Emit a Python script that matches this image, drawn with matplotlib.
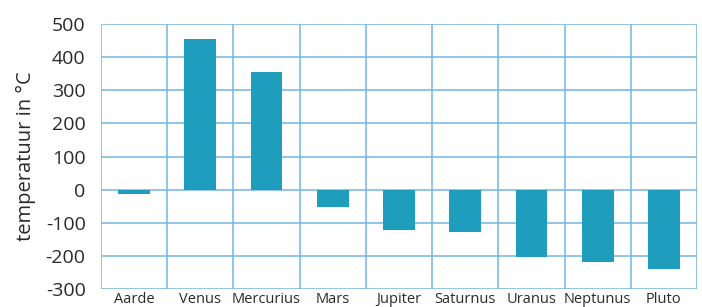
import matplotlib
matplotlib.use("Agg")
import matplotlib.pyplot as plt
import numpy as np

planets = ["Aarde", "Venus", "Mercurius", "Mars", "Jupiter", "Saturnus", "Uranus", "Neptunus", "Pluto"]
temps = [-12, 454, 355, -52, -123, -128, -204, -219, -240]
yticks = [-300, -200, -100, 0, 100, 200, 300, 400, 500]

plt.rcParams['font.family'] = ['Open Sans', 'DejaVu Sans']

fig = plt.figure(figsize=(7.02, 3.07), dpi=100)
ax = fig.add_axes([101/702, 1-289/307, 596/702, 265/307])

grid_c = "#74b5e2"
bar_c = "#1f9dbd"
txt_c = "#2a2a2a"
x = np.arange(len(planets))
ax.bar(x, temps, width=0.48, color=bar_c, zorder=3)

ax.set_xlim(-0.5, len(planets) - 0.5)
ax.set_ylim(-300, 500)
ax.set_yticks(yticks)
ax.set_yticklabels([str(v) for v in yticks], fontsize=14, color=txt_c)
ax.set_xticks(x)
ax.set_xticklabels(planets, fontsize=10.5, color=txt_c)
ax.tick_params(axis='both', length=0)
ax.tick_params(axis='y', pad=11)
ax.tick_params(axis='x', pad=2)

for v in yticks:
    ax.axhline(v, color=grid_c, lw=1.1, zorder=1)
for b in np.arange(-0.5, len(planets), 1.0):
    ax.axvline(b, color=grid_c, lw=1.1, zorder=1)

for s in ax.spines.values():
    s.set_visible(False)

ax.set_ylabel("temperatuur in °C", fontsize=14.5, color=txt_c, labelpad=7)

fig.savefig("out.png", dpi=100)
